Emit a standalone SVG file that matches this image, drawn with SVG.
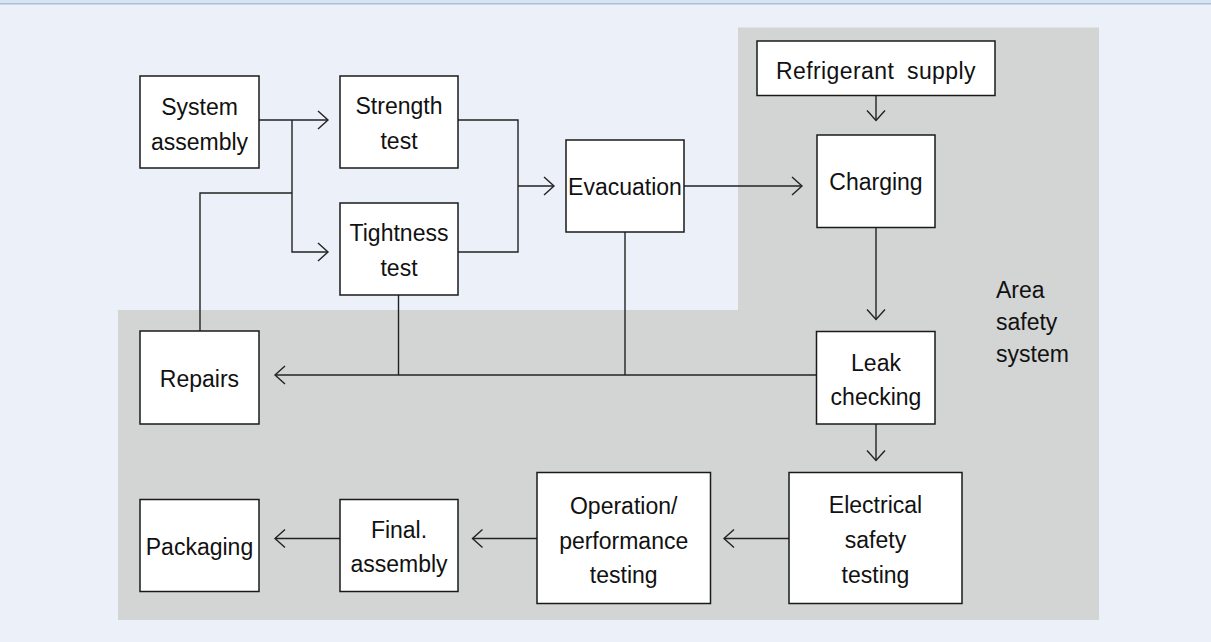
<svg xmlns="http://www.w3.org/2000/svg" width="1211" height="642" viewBox="0 0 1211 642">
<style>
.box{fill:#fff;stroke:#1a1a1a;stroke-width:1.5}
.t{font-family:"Liberation Sans",Arial,sans-serif;font-size:23px;fill:#111;text-anchor:middle}
.tl{font-family:"Liberation Sans",Arial,sans-serif;font-size:23px;fill:#111}
.c{fill:none;stroke:#222;stroke-width:1.4}
</style>
<defs>
<marker id="ar" markerUnits="userSpaceOnUse" markerWidth="14" markerHeight="22" refX="11" refY="10" orient="auto">
<path d="M1,1 L11,10 L1,19" fill="none" stroke="#222" stroke-width="1.4"/>
</marker>
</defs>
<rect x="0" y="0" width="1211" height="642" fill="#ECF0F9"/>
<rect x="0" y="0" width="1211" height="3" fill="#DAE4F0"/>
<rect x="0" y="3" width="1211" height="1.5" fill="#A6C0DE"/>
<polygon points="118,310 738,310 738,27.5 1099,27.5 1099,620 118,620" fill="#D3D5D5"/>
<g id="connectors">
<path class="c" d="M259,120 H328" marker-end="url(#ar)"/>
<path class="c" d="M292,120 V252 H328" marker-end="url(#ar)"/>
<path class="c" d="M200,331 V193 H292"/>
<path class="c" d="M458,120 H518 V252 H458"/>
<path class="c" d="M518,186 H554" marker-end="url(#ar)"/>
<path class="c" d="M684,186 H802" marker-end="url(#ar)"/>
<path class="c" d="M876,95.5 V120.5" marker-end="url(#ar)"/>
<path class="c" d="M876,227.5 V319.5" marker-end="url(#ar)"/>
<path class="c" d="M816,375 H275" marker-end="url(#ar)"/>
<path class="c" d="M398.5,295 V375"/>
<path class="c" d="M625,232 V375"/>
<path class="c" d="M876,424 V460.5" marker-end="url(#ar)"/>
<path class="c" d="M789,538.5 H724" marker-end="url(#ar)"/>
<path class="c" d="M537,538.5 H472.5" marker-end="url(#ar)"/>
<path class="c" d="M340,538.5 H275" marker-end="url(#ar)"/>
</g>
<g id="system-assembly"><rect class="box" x="140" y="76" width="119" height="92"/><text class="t" x="199.5" y="114.5">System</text><text class="t" x="199.5" y="149.5">assembly</text></g>
<g id="strength-test"><rect class="box" x="340" y="76" width="118" height="92"/><text class="t" x="399" y="114">Strength</text><text class="t" x="399" y="149">test</text></g>
<g id="tightness-test"><rect class="box" x="340" y="203" width="118" height="92"/><text class="t" x="399" y="241">Tightness</text><text class="t" x="399" y="276">test</text></g>
<g id="evacuation"><rect class="box" x="566" y="140" width="118" height="92"/><text class="t" x="625" y="195">Evacuation</text></g>
<g id="refrigerant-supply"><rect class="box" x="757" y="41" width="238" height="54.5"/><text class="t" x="876" y="79" letter-spacing="0.4" word-spacing="6">Refrigerant supply</text></g>
<g id="charging"><rect class="box" x="817" y="135" width="118" height="92.5"/><text class="t" x="876" y="190">Charging</text></g>
<g id="leak-checking"><rect class="box" x="816.5" y="331.5" width="118.5" height="92.5"/><text class="t" x="876" y="371">Leak</text><text class="t" x="876" y="405">checking</text></g>
<g id="repairs"><rect class="box" x="140" y="331" width="119" height="93"/><text class="t" x="199.5" y="387">Repairs</text></g>
<g id="packaging"><rect class="box" x="140" y="499.5" width="119" height="92"/><text class="t" x="199.5" y="555">Packaging</text></g>
<g id="final-assembly"><rect class="box" x="340" y="499.5" width="118" height="92"/><text class="t" x="399" y="538">Final.</text><text class="t" x="399" y="572">assembly</text></g>
<g id="operation-testing"><rect class="box" x="537" y="472.5" width="173.5" height="131"/><text class="t" x="623.7" y="514">Operation/</text><text class="t" x="623.7" y="548.5">performance</text><text class="t" x="623.7" y="583">testing</text></g>
<g id="electrical-testing"><rect class="box" x="789" y="472.5" width="173" height="131"/><text class="t" x="875.5" y="513">Electrical</text><text class="t" x="875.5" y="548">safety</text><text class="t" x="875.5" y="583">testing</text></g>
<g id="area-label"><text class="tl" x="996" y="298">Area</text><text class="tl" x="996" y="330">safety</text><text class="tl" x="996" y="362">system</text></g>
</svg>
